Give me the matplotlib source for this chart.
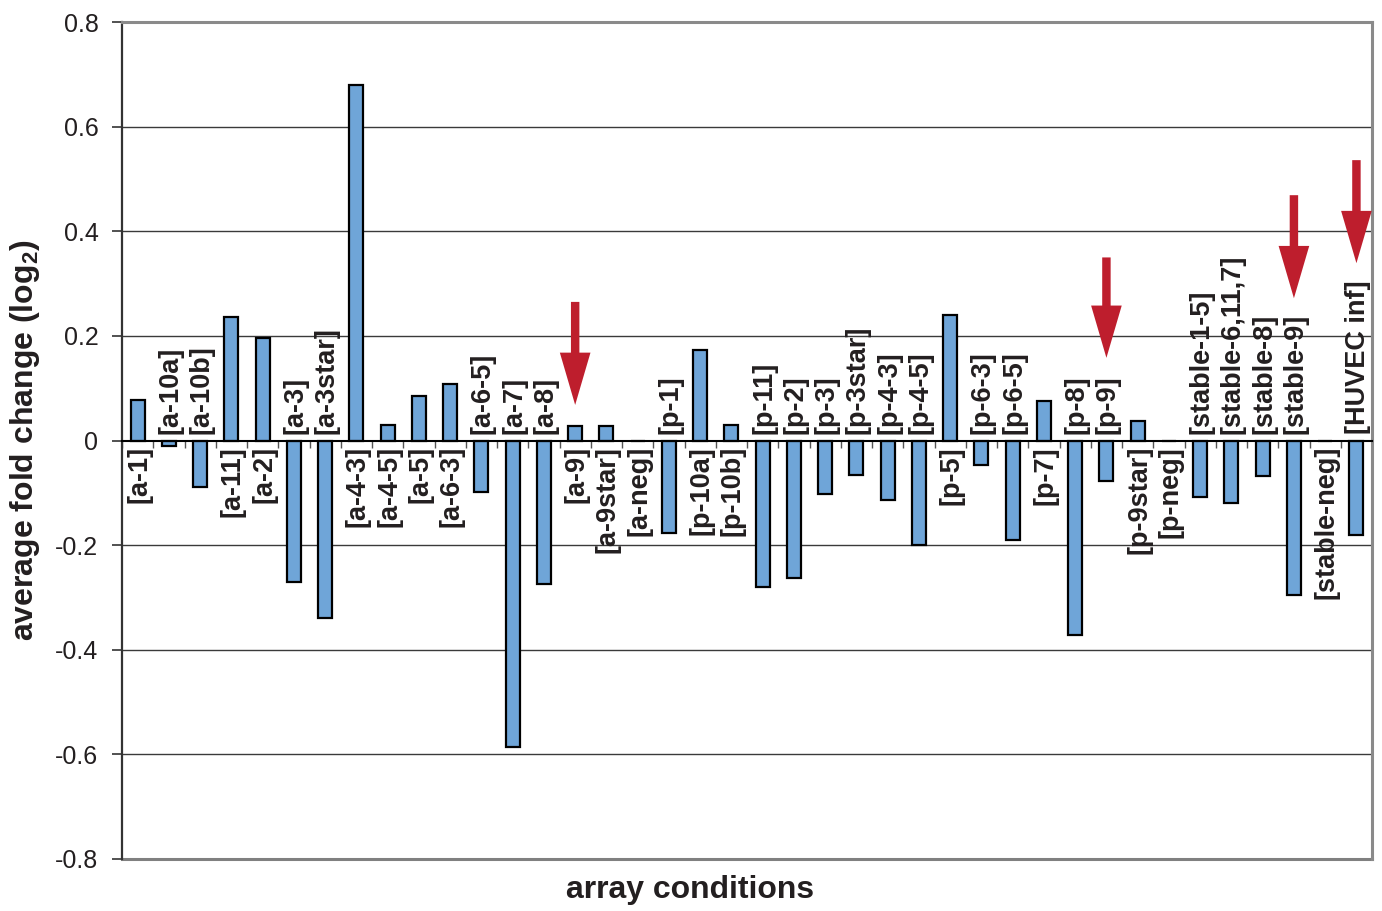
import numpy as np
import matplotlib
matplotlib.use("Agg")
import matplotlib.pyplot as plt
from matplotlib.patches import FancyArrow

plt.rcParams['font.family'] = ['Liberation Sans', 'DejaVu Sans']
plt.rcParams['mathtext.fontset'] = 'custom'
plt.rcParams['mathtext.bf'] = 'Liberation Sans:bold'
plt.rcParams['mathtext.rm'] = 'Liberation Sans:bold'

# データ
conditions = ['[a-1]', '[a-10a]', '[a-10b]', '[a-11]', '[a-2]', '[a-3]', '[a-3star]',
              '[a-4-3]', '[a-4-5]', '[a-5]', '[a-6-3]', '[a-6-5]', '[a-7]', '[a-8]',
              '[a-9]', '[a-9star]', '[a-neg]', '[p-1]', '[p-10a]', '[p-10b]', '[p-11]',
              '[p-2]', '[p-3]', '[p-3star]', '[p-4-3]', '[p-4-5]', '[p-5]', '[p-6-3]',
              '[p-6-5]', '[p-7]', '[p-8]', '[p-9]', '[p-9star]', '[p-neg]',
              '[stable-1-5]', '[stable-6,11,7]', '[stable-8]', '[stable-9]',
              '[stable-neg]', '[HUVEC inf]']
fold_change = [0.078, -0.010, -0.089, 0.236, 0.196, -0.270, -0.340,
               0.680, 0.030, 0.085, 0.108, -0.098, -0.586, -0.274,
               0.028, 0.028, 0.0, -0.177, 0.173, 0.030, -0.280,
               -0.263, -0.102, -0.066, -0.113, -0.200, 0.240, -0.047,
               -0.190, 0.076, -0.372, -0.077, 0.037, 0.0,
               -0.108, -0.120, -0.068, -0.295,
               0.0, -0.181]
yticks = [-0.8, -0.6, -0.4, -0.2, 0, 0.2, 0.4, 0.6, 0.8]
ytick_labels = ['-0.8', '-0.6', '-0.4', '-0.2', '0', '0.2', '0.4', '0.6', '0.8']

# 矢印 (対象の条件, 上端, 先端)
arrow_targets = ['[a-9]', '[p-9]', '[stable-9]', '[HUVEC inf]']
arrow_top = [0.265, 0.350, 0.469, 0.536]
arrow_tip = [0.068, 0.158, 0.272, 0.339]

text_col = '#231f20'
bar_col = '#6fa5d8'
arrow_col = '#be1e2d'

fig = plt.figure(figsize=(13.82, 9.11), dpi=100)
ax = fig.add_axes([0.0883, 0.0571, 0.9045, 0.9187])

x = np.arange(len(conditions))
ax.bar(x, fold_change, width=0.45, color=bar_col, edgecolor='black', linewidth=1.6, zorder=3)

ax.set_xlim(-0.5, len(conditions) - 0.5)
ax.set_ylim(-0.8, 0.8)

# グリッド
for t in yticks[1:-1]:
    if t != 0:
        ax.axhline(t, color='#3a3a3a', lw=1.0, zorder=1)
ax.axhline(-0.8, color='#808080', lw=2.2, zorder=2, clip_on=False)

# 枠線
ax.spines['top'].set_color('#8a8a8a')
ax.spines['top'].set_linewidth(2.2)
ax.spines['right'].set_color('#8a8a8a')
ax.spines['right'].set_linewidth(2.2)
ax.spines['left'].set_color('#333333')
ax.spines['left'].set_linewidth(1.6)
ax.spines['bottom'].set_position(('data', 0))
ax.spines['bottom'].set_color('black')
ax.spines['bottom'].set_linewidth(1.5)
ax.spines['bottom'].set_zorder(4)

ax.set_xticks(np.arange(len(conditions) + 1) - 0.5)
ax.set_xticklabels([])
ax.tick_params(axis='x', direction='out', length=5, width=1, color='#555555')

ax.set_yticks(yticks)
ax.set_yticklabels(ytick_labels)
ax.tick_params(axis='y', direction='out', length=7, width=1.2, color='#333333',
               labelsize=18, labelcolor=text_col, pad=10)

# 条件ラベル
for i, (name, v) in enumerate(zip(conditions, fold_change)):
    if v >= 0:
        ax.annotate(name, (i, 0), xytext=(1, -4), textcoords='offset points',
                    rotation=90, ha='center', va='top', fontsize=19.5,
                    fontweight='bold', color=text_col, zorder=5)
    else:
        ax.annotate(name, (i, 0), xytext=(1, 5), textcoords='offset points',
                    rotation=90, ha='center', va='bottom', fontsize=19.5,
                    fontweight='bold', color=text_col, zorder=5)

# 赤い矢印
for name, y0, y1 in zip(arrow_targets, arrow_top, arrow_tip):
    i = conditions.index(name)
    ax.add_patch(FancyArrow(i, y0, 0, y1 - y0, width=0.27, head_width=0.98,
                            head_length=0.1, length_includes_head=True,
                            color=arrow_col, lw=0, zorder=6))

ax.set_ylabel(r'average fold change (log$_{2}$)', fontsize=23, fontweight='bold', color=text_col)
ax.yaxis.set_label_coords(-0.064, 0.5)
ax.set_xlabel('array conditions', fontsize=23, fontweight='bold', color=text_col)
ax.xaxis.set_label_coords(0.4544, -0.019)

plt.savefig('out.png', dpi=100)
